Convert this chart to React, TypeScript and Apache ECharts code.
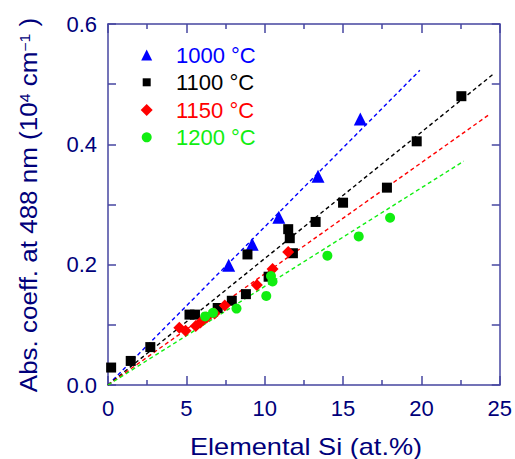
import React, { useEffect, useRef } from "react";
import * as echarts from "echarts";

// ---- data ----
const seriesNames = ["1000 °C", "1100 °C", "1150 °C", "1200 °C"];
const seriesColors = ["#0000ff", "#000000", "#ff0000", "#11ee11"];

const x1000 = [7.7, 9.2, 10.9, 13.4, 16.1];
const y1000 = [0.199, 0.234, 0.279, 0.347, 0.442];

const x1100 = [0.2, 1.45, 2.7, 5.2, 5.55, 7.0, 7.9, 8.8, 8.9, 10.25, 11.5, 11.6, 11.8, 13.25, 15.0, 17.8, 19.7, 22.55];
const y1100 = [0.029, 0.04, 0.063, 0.117, 0.117, 0.128, 0.14, 0.151, 0.217, 0.18, 0.259, 0.244, 0.219, 0.271, 0.303, 0.328, 0.405, 0.48];

const x1150 = [4.55, 4.95, 5.6, 5.9, 6.3, 6.8, 7.45, 9.5, 10.5, 11.5];
const y1150 = [0.095, 0.09, 0.098, 0.104, 0.112, 0.119, 0.132, 0.166, 0.193, 0.221];

const x1200 = [6.2, 6.7, 8.2, 10.1, 10.4, 10.5, 14.0, 16.0, 18.0];
const y1200 = [0.114, 0.12, 0.127, 0.148, 0.181, 0.172, 0.215, 0.247, 0.278];

// fitted lines: start and end points
const fitX = [[0, 19.9], [0, 24.6], [0, 24.3], [0, 22.7]];
const fitY = [[0, 0.523], [0, 0.517], [0, 0.449], [0, 0.372]];

const xTicks = { min: 0, max: 25, interval: 5 };
const yTicks = { min: 0, max: 0.6, interval: 0.2 };

const FONT = "'Liberation Sans', Arial, sans-serif";
const AXIS_COLOR = "#4646a0";
const LABEL_COLOR = "#00007a";

const symbols = ["triangle", "rect", "diamond", "circle"];
const symbolSizes = [13, 10, 12, 10];
const legendIconSizes = [11, 8, 12, 10];
const legendRowCenters = [55, 82.3, 110, 137.3];

const App: React.FC = () => {
  const ref = useRef<HTMLDivElement>(null);

  useEffect(() => {
    if (!ref.current) return;
    const chart = echarts.init(ref.current, undefined, { renderer: "svg" });

    const xs = [x1000, x1100, x1150, x1200];
    const ys = [y1000, y1100, y1150, y1200];

    const lineSeries = fitX.map((fx, i) => ({
      type: "line",
      name: "fit " + seriesNames[i],
      data: fx.map((v, j) => [v, fitY[i][j]]),
      showSymbol: false,
      symbol: "none",
      lineStyle: { color: seriesColors[i], width: 1.4, type: [4, 3] },
      z: 1,
      silent: true,
    }));

    const scatterSeries = xs.map((xx, i) => ({
      type: "scatter",
      name: seriesNames[i],
      data: xx.map((v, j) => [v, ys[i][j]]),
      symbol: symbols[i],
      symbolSize: symbolSizes[i],
      itemStyle: { color: seriesColors[i], opacity: 1 },
      z: 2 + i,
    }));

    const tickStyle = { color: AXIS_COLOR, width: 1.5 };

    const makeX = (pos: string, labels: boolean) => ({
      type: "value",
      position: pos,
      ...xTicks,
      axisLine: { show: true, onZero: false, lineStyle: { color: AXIS_COLOR, width: 1.5 } },
      axisTick: { show: true, inside: true, length: 9, lineStyle: tickStyle },
      minorTick: { show: true, splitNumber: 2, length: 5, lineStyle: tickStyle },
      splitLine: { show: false },
      axisLabel: {
        show: labels,
        color: LABEL_COLOR,
        fontSize: 22,
        fontFamily: FONT,
        margin: 12,
      },
    });

    const makeY = (pos: string, labels: boolean) => ({
      type: "value",
      position: pos,
      ...yTicks,
      axisLine: { show: true, onZero: false, lineStyle: { color: AXIS_COLOR, width: 1.5 } },
      axisTick: { show: true, inside: true, length: 8, lineStyle: tickStyle },
      minorTick: { show: true, splitNumber: 2, length: 8, lineStyle: tickStyle },
      splitLine: { show: false },
      axisLabel: {
        show: labels,
        color: LABEL_COLOR,
        fontSize: 22,
        fontFamily: FONT,
        margin: 11,
        formatter: (v: number) => v.toFixed(1),
      },
    });

    const legends = seriesNames.map((n, i) => {
      const s = legendIconSizes[i];
      return {
        show: true,
        orient: "vertical",
        left: 146.7 - s / 2,
        top: legendRowCenters[i] - 12,
        padding: 0,
        itemWidth: s,
        itemHeight: s,
        itemGap: 0,
        selectedMode: false,
        textStyle: {
          color: seriesColors[i],
          fontSize: 22,
          fontFamily: FONT,
          lineHeight: 24,
          padding: [0, 0, 0, 24.3 - s / 2],
        },
        data: [{ name: n, icon: symbols[i] }],
      };
    });

    chart.setOption({
      animation: false,
      grid: { left: 108, right: 12, top: 24, bottom: 74, containLabel: false },
      xAxis: [makeX("bottom", true), makeX("top", false)],
      yAxis: [makeY("left", true), makeY("right", false)],
      legend: legends,
      graphic: [
        {
          type: "text",
          x: 306,
          y: 447,
          scaleX: 1.18,
          style: {
            text: "Elemental Si (at.%)",
            fontSize: 23,
            fontFamily: FONT,
            fill: LABEL_COLOR,
            align: "center",
            verticalAlign: "middle",
          },
        },
        {
          type: "text",
          x: 29,
          y: 205,
          rotation: Math.PI / 2,
          scaleX: 1.13,
          style: {
            text: "{a|Abs. coeff. at 488 nm (10}{s|4}{a| cm}{s|−1}{a| )}",
            fontFamily: FONT,
            fill: LABEL_COLOR,
            align: "center",
            verticalAlign: "middle",
            rich: {
              a: { fontSize: 23, fontFamily: FONT, fill: LABEL_COLOR },
              s: { fontSize: 14, fontFamily: FONT, fill: LABEL_COLOR, verticalAlign: "top" },
            },
          },
        },
      ],
      series: [...lineSeries, ...scatterSeries],
    });

    return () => chart.dispose();
  }, []);

  return (
    <div
      ref={ref}
      style={{ position: "absolute", left: 0, top: 0, width: 515, height: 459 }}
    />
  );
};

export default App;
